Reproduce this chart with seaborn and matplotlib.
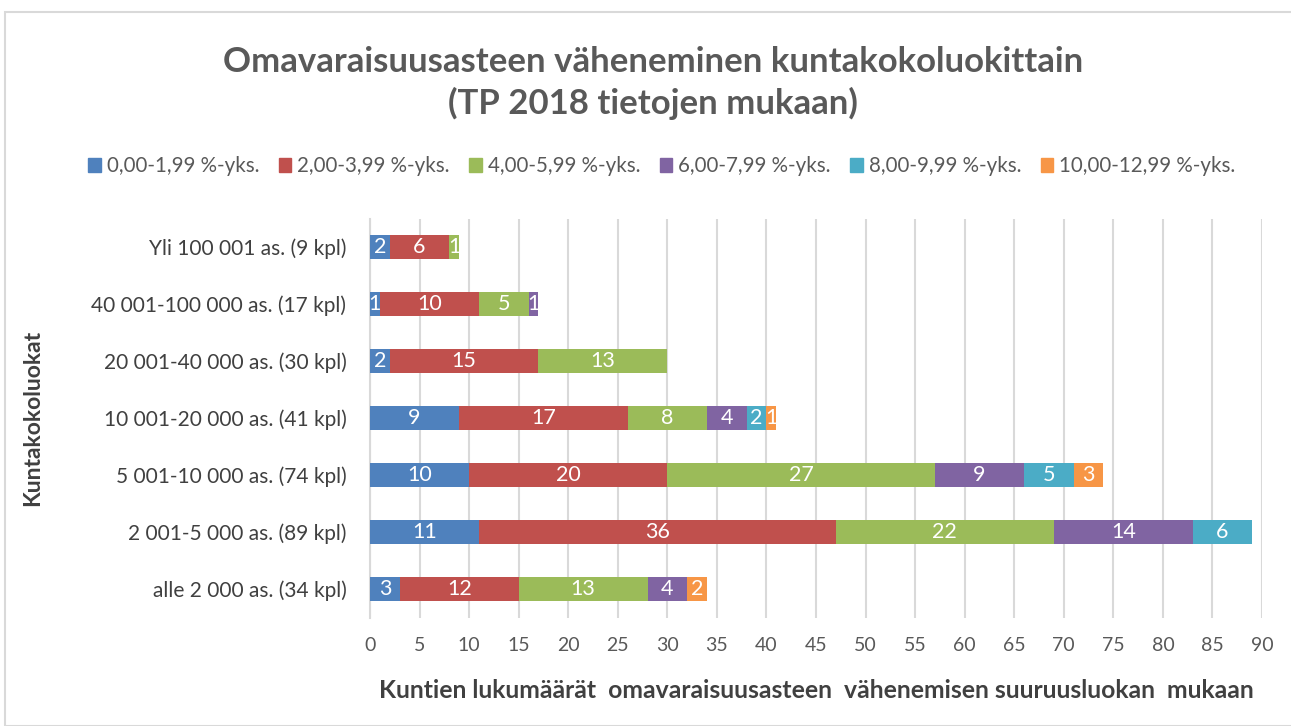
import matplotlib
matplotlib.use("Agg")
import matplotlib.pyplot as plt
import seaborn as sns
import pandas as pd
import numpy as np
from matplotlib.patches import Rectangle

categories = [
    "Yli 100 001 as. (9 kpl)",
    "40 001-100 000 as. (17 kpl)",
    "20 001-40 000 as. (30 kpl)",
    "10 001-20 000 as. (41 kpl)",
    "5 001-10 000 as. (74 kpl)",
    "2 001-5 000 as. (89 kpl)",
    "alle 2 000 as. (34 kpl)",
]
series_names = ["0,00-1,99 %-yks.", "2,00-3,99 %-yks.", "4,00-5,99 %-yks.",
                "6,00-7,99 %-yks.", "8,00-9,99 %-yks.", "10,00-12,99 %-yks."]
s1 = [2, 1, 2, 9, 10, 11, 3]
s2 = [6, 10, 15, 17, 20, 36, 12]
s3 = [1, 5, 13, 8, 27, 22, 13]
s4 = [0, 1, 0, 4, 9, 14, 4]
s5 = [0, 0, 0, 2, 5, 6, 0]
s6 = [0, 0, 0, 1, 3, 0, 2]
xticks = list(range(0, 95, 5))

colors = ["#4F81BD", "#C0504D", "#9BBB59", "#8064A2", "#4BACC6", "#F79646"]

sns.set_theme(style="white")
plt.rcParams['font.family'] = ['Lato', 'DejaVu Sans']

fig = plt.figure(figsize=(12.91, 7.26), dpi=100)
ax = fig.add_axes([370/1291, 1-617.5/726, (1262-370)/1291, (617.5-218.5)/726])

series = [s1, s2, s3, s4, s5, s6]
vals = np.array(series, dtype=float)
cum = np.cumsum(vals, axis=0)

# draw stacked bars from the outermost segment inwards
for i in range(len(series) - 1, -1, -1):
    df = pd.DataFrame({"cat": categories, "val": cum[i]})
    sns.barplot(data=df, x="val", y="cat", order=categories, color=colors[i],
                saturation=1, width=0.42, ax=ax, orient="h", zorder=3,
                linewidth=0)

# labels
for i in range(len(series)):
    for j, cat in enumerate(categories):
        v = vals[i, j]
        if v > 0:
            mid = cum[i, j] - v / 2
            ax.text(mid, j, f"{int(v)}", ha="center", va="center",
                    color="white", fontsize=15.5, zorder=5)

ax.set_xlim(0, 90)
ax.set_ylim(len(categories) - 0.5, -0.5)
ax.set_xticks(xticks)
ax.set_xticklabels([str(t) for t in xticks], fontsize=14, color="#595959")
ax.tick_params(axis="y", labelsize=15, labelcolor="#404040", length=0, pad=17)
ax.tick_params(axis="x", length=0, pad=14)
ax.grid(axis="x", color="#D9D9D9", linewidth=1.5, zorder=0)
ax.grid(axis="y", visible=False)
for s in ["top", "right", "bottom"]:
    ax.spines[s].set_visible(False)
ax.spines["left"].set_color("#D9D9D9")
ax.spines["left"].set_linewidth(1.5)
ax.set_axisbelow(True)

ax.set_xlabel("Kuntien lukumäärät  omavaraisuusasteen  vähenemisen suuruusluokan  mukaan",
              fontsize=17.8, fontweight="bold", color="#404040", labelpad=18)
ax.set_ylabel("")
fig.text(33/1291, 1-418/726, "Kuntakokoluokat", rotation=90, ha="center", va="center",
         fontsize=16.5, fontweight="bold", color="#404040")

fig.text(653/1291, 1-62/726, "Omavaraisuusasteen väheneminen kuntakokoluokittain",
         ha="center", va="center", fontsize=25, fontweight="bold", color="#595959")
fig.text(653/1291, 1-103/726, "(TP 2018 tietojen mukaan)",
         ha="center", va="center", fontsize=25, fontweight="bold", color="#595959")

handles = [Rectangle((0, 0), 1, 1, color=c) for c in colors]
fig.legend(handles, series_names, loc="center", bbox_to_anchor=(662/1291, 1-166/726),
           ncol=6, frameon=False, fontsize=14.8, handlelength=0.6, handleheight=0.7,
           handletextpad=0.3, columnspacing=0.95, labelcolor="#595959")

# outer chart border
fig.add_artist(Rectangle((5/1291, 0.0), 1.2, 1-12/726, transform=fig.transFigure,
                         fill=False, edgecolor="#D9D9D9", linewidth=1.5))

fig.savefig("out.png", dpi=100, facecolor="white")
